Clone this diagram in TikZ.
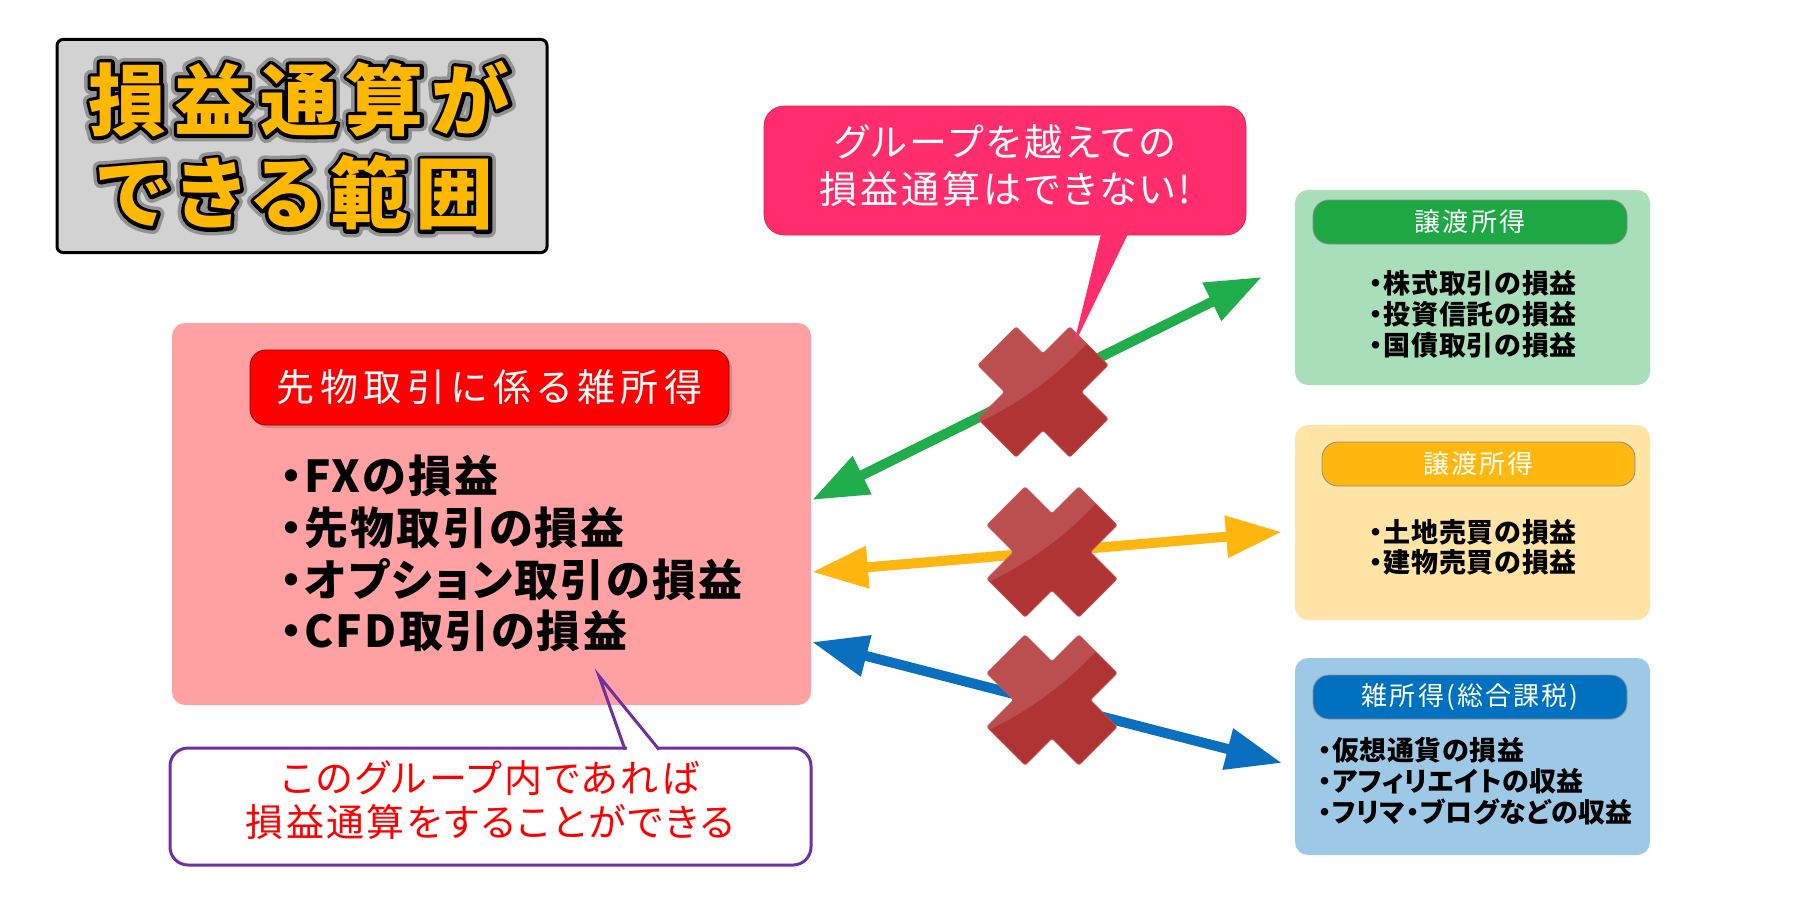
\documentclass[tikz,border=0pt]{standalone}
\usepackage{fontspec}
\setmainfont{Noto Sans CJK JP}
\newfontfamily\jp[RawFeature=+palt]{Noto Sans CJK JP}
\newfontfamily\jpp[Script=CJK,RawFeature=+palt]{Noto Sans CJK JP}
\usetikzlibrary{arrows.meta}
\definecolor{titlebg}{HTML}{D2D2D2}
\definecolor{titletx}{HTML}{FFB800}
\definecolor{calloutpk}{HTML}{FF2D6B}
\definecolor{pinkbg}{HTML}{FFA0A2}
\definecolor{redhdr}{HTML}{FF0000}
\definecolor{purpl}{HTML}{7030A0}
\definecolor{gboxc}{HTML}{A8DEBA}
\definecolor{ghdrc}{HTML}{1EA844}
\definecolor{yboxc}{HTML}{FFE4A5}
\definecolor{yhdrc}{HTML}{FFB80F}
\definecolor{bboxc}{HTML}{9EC9E6}
\definecolor{bhdrc}{HTML}{0070C0}
\definecolor{garrow}{HTML}{1FAE4B}
\definecolor{yarrow}{HTML}{FFB60F}
\definecolor{barrow}{HTML}{0A6FBE}
\definecolor{crossred}{HTML}{B13434}
\definecolor{crossedge}{HTML}{C04848}
% #1 size, #2 letter space, #3 family/series
\newcommand{\jpf}[3]{#3\fontsize{#1}{#1}\selectfont\addfontfeature{LetterSpace=#2}}
\newcommand{\strk}[2]{\special{pdf:literal direct 1 Tr #1 w 1 j}#2\special{pdf:literal direct 0 Tr}}
\tikzset{
  box/.style={rounded corners=13pt, inner sep=0pt},
  hdr/.style={rounded corners=16pt, inner sep=0pt, draw=black!45, line width=0.8pt, text=white},
  dblarrow/.style={line width=10pt, {Triangle[length=56pt,width=40pt]}-{Triangle[length=56pt,width=40pt]}},
  itemtxt/.style={inner sep=0pt, text=black, font=\jpf{27}{3}{\jp\bfseries}},
  blueitem/.style={inner sep=0pt, text=black, anchor=west, font=\jpf{27}{2}{\jpp\bfseries}},
  bigitem/.style={inner sep=0pt, text=black, anchor=west, font=\jpf{44}{5}{\jpp\bfseries}},
  titletxt/.style={inner sep=0pt, font=\jpf{78}{10}{\jpp\bfseries}},
  xmark/.pic={
    \path[fill=crossred, draw=crossedge, line width=1pt, rounded corners=2pt]
      (0,38.2) -- (26.9,65) -- (65,26.9) -- (38.2,0) -- (65,-26.9) -- (26.9,-65)
      -- (0,-38.2) -- (-26.9,-65) -- (-65,-26.9) -- (-38.2,0) -- (-65,26.9) -- (-26.9,65) -- cycle;
    \begin{scope}
      \clip (0,38.2) -- (26.9,65) -- (65,26.9) -- (38.2,0) -- (65,-26.9) -- (26.9,-65)
      -- (0,-38.2) -- (-26.9,-65) -- (-65,-26.9) -- (-38.2,0) -- (-65,26.9) -- (-26.9,65) -- cycle;
      \fill[white, opacity=0.13] (-218,-294) circle (359);
    \end{scope}
  }
}
\begin{document}
\begin{tikzpicture}[x=1pt,y=-1pt]
\useasboundingbox[fill=white] (0,0) rectangle (1801,899);

% title
\node[draw=black, line width=3pt, fill=titlebg, rounded corners=6pt, minimum width=490, minimum height=213] (titlebox) at (302,146) {};
\node[titletxt, text=black, opacity=0.3] (title1g) at (299,99) {\strk{14}{損益通算が}};
\node[titletxt, text=black, opacity=0.3] (title2g) at (296,193) {\strk{14}{できる範囲}};
\node[titletxt, text=black] (title1o) at (299,99) {\strk{7}{損益通算が}};
\node[titletxt, text=black] (title2o) at (296,193) {\strk{7}{できる範囲}};
\node[titletxt, text=titletx] (title1) at (299,99) {損益通算が};
\node[titletxt, text=titletx] (title2) at (296,193) {できる範囲};

% main pink group
\node[box, fill=pinkbg, minimum width=639, minimum height=382] (pinkbox) at (491.5,514) {};
\fill[black, opacity=0.15, rounded corners=16pt] (253,353) rectangle (732,428);
\node[hdr, fill=redhdr, draw=red!60!black, rounded corners=16pt, minimum width=479, minimum height=75, font=\jpf{38}{15}{\jp}] (redhdr) at (489.5,387.5) {先物取引に係る雑所得};
\node[bigitem] (p1) at (280,476) {・FXの損益};
\node[bigitem] (p2) at (280,528) {・先物取引の損益};
\node[bigitem] (p3) at (280,580) {・オプション取引の損益};
\node[bigitem] (p4) at (280,631) {・CFD取引の損益};

% right groups
\node[box, fill=gboxc, minimum width=355, minimum height=195] (gbox) at (1472.5,287.5) {};
\node[hdr, fill=ghdrc, minimum width=314, minimum height=44, font=\jpf{26}{8}{\jp}] (ghdr) at (1470,222) {譲渡所得};
\node[itemtxt] (g1) at (1473,283) {・株式取引の損益};
\node[itemtxt] (g2) at (1473,314) {・投資信託の損益};
\node[itemtxt] (g3) at (1473,345) {・国債取引の損益};

\node[box, fill=yboxc, minimum width=355, minimum height=195] (ybox) at (1472.5,522.5) {};
\node[hdr, fill=yhdrc, minimum width=313, minimum height=44, font=\jpf{26}{8}{\jp}] (yhdr) at (1478.5,464) {譲渡所得};
\node[itemtxt] (y1) at (1473,532) {・土地売買の損益};
\node[itemtxt] (y2) at (1473,562) {・建物売買の損益};

\node[box, fill=bboxc, minimum width=355, minimum height=197] (bbox) at (1472.5,756.5) {};
\node[hdr, fill=bhdrc, minimum width=314, minimum height=44, font=\jpf{26}{8}{\jp}] (bhdr) at (1470,697) {雑所得(総合課税)};
\node[blueitem] (b1) at (1318,750) {・仮想通貨の損益};
\node[blueitem] (b2) at (1318,781) {・アフィリエイトの収益};
\node[blueitem] (b3) at (1318,812) {・フリマ・ブログなどの収益};

% arrows
\coordinate (gA) at (812,500); \coordinate (gB) at (1262,277);
\coordinate (yA) at (812,572); \coordinate (yB) at (1282,532);
\coordinate (bA) at (812,642); \coordinate (bB) at (1282,763);
\draw[dblarrow, garrow] (gA) -- (gB);
\draw[dblarrow, yarrow] (yA) -- (yB);
\draw[dblarrow, barrow] (bA) -- (bB);

% crosses
\pic (x1) at (1043,392) {xmark};
\pic (x2) at (1052,552) {xmark};
\pic (x3) at (1052,700) {xmark};

% top callout
\node[rounded corners=20pt, fill=calloutpk, draw=calloutpk!80!black, line width=0.6pt, minimum width=482, minimum height=129, inner sep=0pt] (topcall) at (1005,170.5) {};
\coordinate (tailtip) at (1073,347);
\fill[calloutpk] (1101,234) -- (tailtip) -- (1128,234) -- cycle;
\node[inner sep=0pt, text=white, font=\jpf{38}{8}{\jp}] (tc1) at (1005,142) {グループを越えての};
\node[inner sep=0pt, text=white, font=\jpf{38}{8}{\jp}] (tc2) at (1005,189) {損益通算はできない!};

% bottom callout
\node[draw=purpl, line width=3pt, rounded corners=18pt, minimum width=641, minimum height=117, inner sep=0pt] (botcall) at (490.5,806.5) {};
\coordinate (btip) at (599,676);
\draw[white, line width=4pt] (627,748) -- (657,748);
\draw[purpl, line width=3pt, line join=miter] (625,749.5) -- (btip) -- (659,749.5);
\node[inner sep=0pt, text=red, font=\jpf{38}{6}{\jp}] (bc1) at (490,778) {このグループ内であれば};
\node[inner sep=0pt, text=red, font=\jpf{38}{6}{\jp}] (bc2) at (490,822) {損益通算をすることができる};
\end{tikzpicture}
\end{document}
